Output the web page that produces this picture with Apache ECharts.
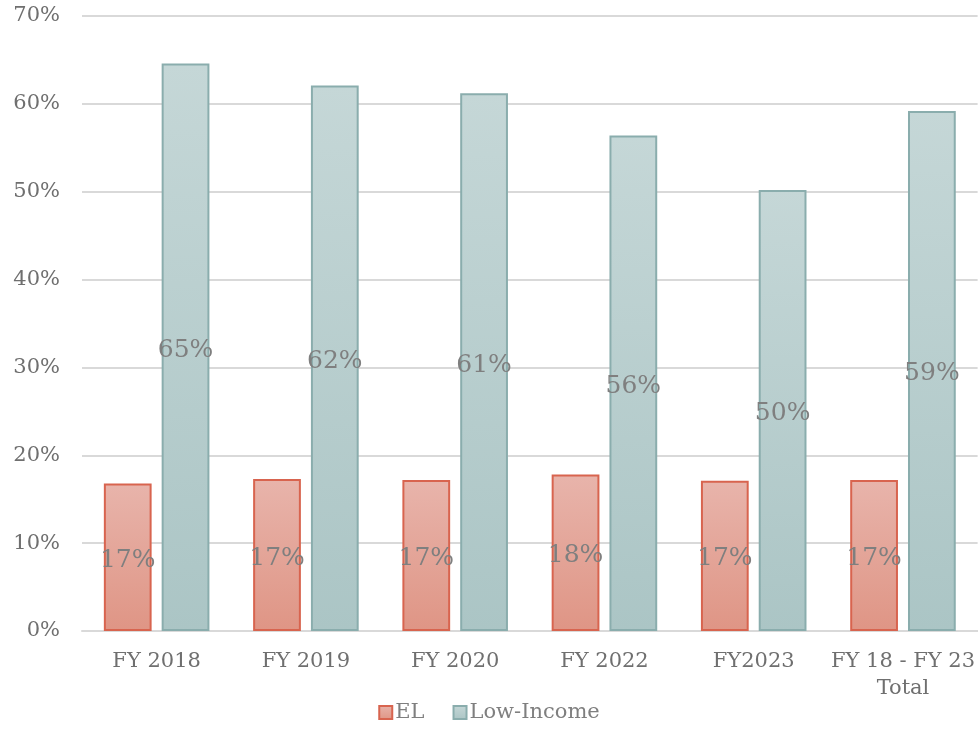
<!DOCTYPE html>
<html><head><meta charset="utf-8">
<script src="https://cdn.jsdelivr.net/npm/echarts@6/dist/echarts.min.js"></script>
<style>html,body{margin:0;padding:0;background:#fff}#c{width:978px;height:751px}</style>
</head><body><div id="c"></div>
<script>
const categories = ['FY 2018','FY 2019','FY 2020','FY 2022','FY2023','FY 18 - FY 23\nTotal'];
const elValues = [16.8, 17.3, 17.2, 17.8, 17.1, 17.2];
const lowIncomeValues = [64.6, 62.1, 61.2, 56.4, 50.2, 59.2];
const yTicks = [0,10,20,30,40,50,60,70];

const font = 'DejaVu Serif';
const chart = echarts.init(document.getElementById('c'));
const grad = (a,b)=>new echarts.graphic.LinearGradient(0,0,0,1,[{offset:0,color:a},{offset:1,color:b}]);
const labelCfg = {show:true, position:'inside', offset:[0,3], formatter:p=>Math.round(p.value)+'%', color:'#7f7f7f', fontFamily:font, fontSize:25};
chart.setOption({
  animation:false,
  textStyle:{fontFamily:font},
  grid:{left:82,right:0,top:16,bottom:120,containLabel:false},
  legend:{bottom:23,left:'center',itemWidth:13,itemHeight:13,itemGap:28,icon:'rect',
    textStyle:{fontFamily:font,fontSize:21,color:'#7f7f7f',padding:[0,0,0,-2]},
    data:['EL','Low-Income']},
  xAxis:{type:'category',data:categories,axisTick:{show:false},
    axisLine:{lineStyle:{color:'#d9d9d9',width:2}},
    axisLabel:{color:'#6f6f6f',fontFamily:font,fontSize:21,margin:17,lineHeight:27,interval:0}},
  yAxis:{type:'value',min:0,max:70,interval:10,
    axisLabel:{color:'#6f6f6f',fontFamily:font,fontSize:21,margin:22,formatter:v=>v+'%'},
    splitLine:{lineStyle:{color:'#d9d9d9',width:2}},axisLine:{show:false},axisTick:{show:false}},
  series:[
    {name:'EL',type:'bar',data:elValues,barWidth:'32%',barGap:'21%',
     itemStyle:{color:grad('#e8b4ab','#df9585'),borderColor:'#d8644f',borderWidth:2},
     label:labelCfg},
    {name:'Low-Income',type:'bar',data:lowIncomeValues,barWidth:'32%',
     itemStyle:{color:grad('#c5d7d7','#abc5c5'),borderColor:'#8aadad',borderWidth:2},
     label:labelCfg}
  ]
});
</script></body></html>
